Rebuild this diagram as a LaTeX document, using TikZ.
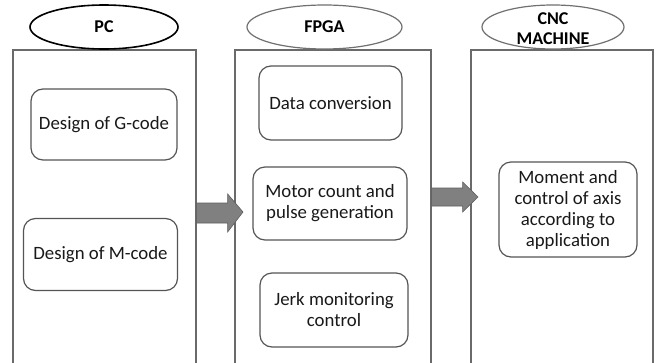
\documentclass[tikz,border=0pt]{standalone}
\usepackage{fontspec}
\setmainfont{Carlito}
\usetikzlibrary{shapes.geometric,calc}
\definecolor{boxline}{HTML}{6A6A6A}
\definecolor{innerline}{HTML}{555555}
\definecolor{arrowfill}{HTML}{808080}
\definecolor{arrowline}{HTML}{5E5E5E}
\definecolor{ellgray}{HTML}{707070}
\tikzset{
  container/.style={draw=boxline, line width=1.3pt, rectangle, inner sep=0pt},
  stepbox/.style={draw=innerline, line width=1.2pt, rectangle, rounded corners=12pt,
    align=center, inner sep=0pt, font=\fontsize{18.8}{21}\selectfont, text=black!90},
  head/.style={ellipse, draw=ellgray, line width=1.2pt, fill=white, inner sep=0pt,
    align=center, font=\fontsize{18}{19.5}\selectfont\bfseries},
  headtext/.style={inner sep=0pt, align=center, font=\fontsize{18}{19.5}\selectfont\bfseries},
  fatarrow/.style={fill=arrowfill, draw=arrowline, line width=0.6pt}
}
\begin{document}
\begin{tikzpicture}[x=1pt,y=-1pt]
\clip (0,0) rectangle (656,362);
\fill[white] (0,0) rectangle (656,362);
% containers
\node[container, minimum width=183pt, minimum height=330pt] (pcbox) at (104.5,215) {};
\node[container, minimum width=196pt, minimum height=330pt] (fpgabox) at (333,215) {};
\node[container, minimum width=182pt, minimum height=330pt] (cncbox) at (562,215) {};
% headings
\node[head, draw=black, line width=1.6pt, minimum width=148pt, minimum height=44pt] (pc) at (104,27) {PC};
\node[head, minimum width=155pt, minimum height=44pt] (fpga) at (324.5,27) {FPGA};
\node[head, minimum width=142pt, minimum height=44pt] (cnc) at (553,27) {};
\node[headtext] (cnctext) at (553,28.5) {CNC\\MACHINE};
% inner steps
\node[stepbox, minimum width=146pt, minimum height=71pt] (gcode) at (104,124.5) {Design of G-code};
\node[stepbox, minimum width=154pt, minimum height=72pt] (mcode) at (100.5,254.5) {Design of M-code};
\node[stepbox, minimum width=143pt, minimum height=74pt] (data) at (330.5,103) {Data conversion};
\node[stepbox, minimum width=154pt, minimum height=73pt] (motor) at (330,203.5) {Motor count and\\pulse generation};
\node[stepbox, minimum width=148pt, minimum height=74pt] (jerk) at (334,310) {Jerk monitoring\\control};
\node[stepbox, minimum width=138pt, minimum height=95pt] (moment) at (568,209.5) {Moment and\\control of axis\\according to\\application};
% arrows
\coordinate (a1s) at (pcbox.east |- 0,213);
\coordinate (a1t) at (243,212);
\draw[fatarrow] ($(a1s)+(0,-10)$) -- ($(a1s)+(31,-10)$) -- ($(a1s)+(31,-19)$) -- (a1t)
  -- ($(a1s)+(31,19)$) -- ($(a1s)+(31,10)$) -- ($(a1s)+(0,10)$) -- cycle;
\coordinate (a2s) at (fpgabox.east |- 0,197);
\coordinate (a2t) at (478,197);
\draw[fatarrow] ($(a2s)+(0,-9)$) -- ($(a2s)+(31,-9)$) -- ($(a2s)+(31,-15)$) -- (a2t)
  -- ($(a2s)+(31,15)$) -- ($(a2s)+(31,9)$) -- ($(a2s)+(0,9)$) -- cycle;
\end{tikzpicture}
\end{document}
